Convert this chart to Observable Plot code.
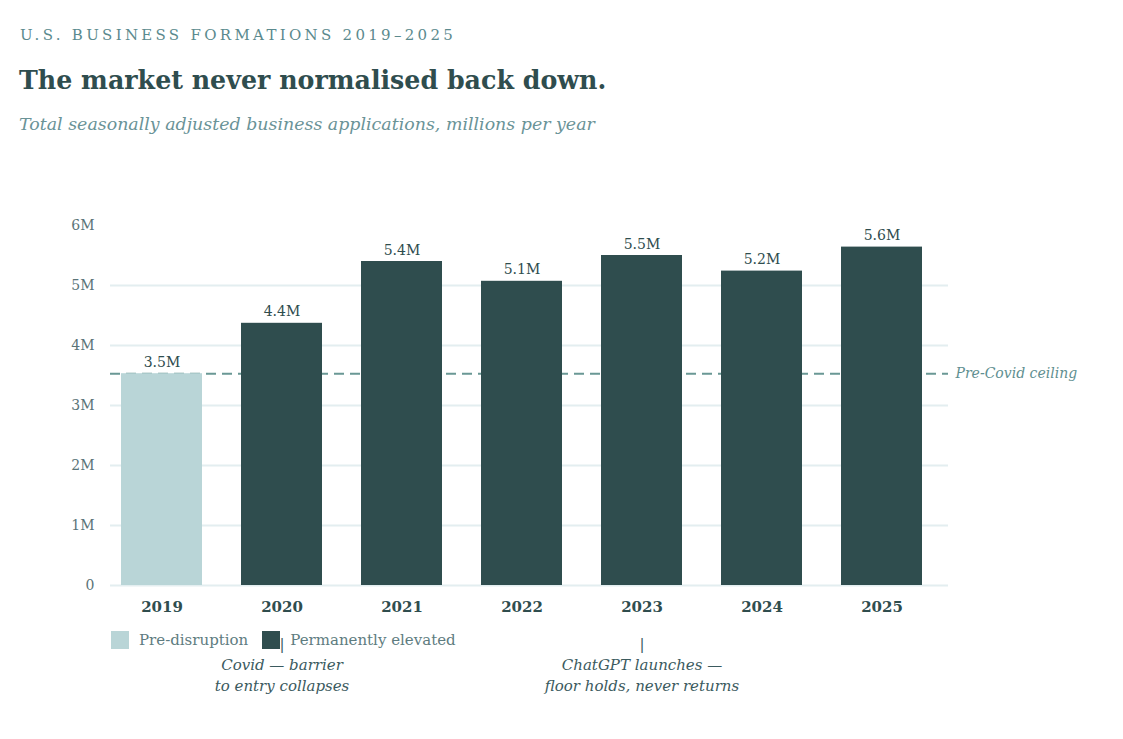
<!DOCTYPE html>
<html>
<head>
<meta charset="utf-8">
<script src="https://cdn.jsdelivr.net/npm/d3@7"></script>
<script src="https://cdn.jsdelivr.net/npm/@observablehq/plot@0.6"></script>
<style>
  body { margin: 0; background: #ffffff; }
  #page { position: relative; width: 1123px; height: 739px; font-family: Georgia, "DejaVu Serif", serif; }
  .kicker { position: absolute; left: 20px; top: 26px; font-size: 15px; letter-spacing: 3.3px; color: #5b8a8e; white-space: nowrap; }
  .title { position: absolute; left: 19px; top: 65px; font-size: 25.3px; font-weight: bold; color: #2f4d4e; white-space: nowrap; }
  .subtitle { position: absolute; left: 19px; top: 114px; font-size: 17.4px; font-style: italic; color: #6a9397; white-space: nowrap; }
  #chart { position: absolute; left: 0; top: 200px; }
  .legend { position: absolute; left: 111px; top: 631px; display: flex; align-items: center; font-size: 15px; color: #5e7c80; }
  .legend .sw { width: 18px; height: 18px; display: inline-block; margin-right: 10px; }
  .legend .item { display: flex; align-items: center; margin-right: 14px; }
</style>
</head>
<body>
<div id="page">
  <div class="kicker">U.S. BUSINESS FORMATIONS 2019–2025</div>
  <div class="title">The market never normalised back down.</div>
  <div class="subtitle">Total seasonally adjusted business applications, millions per year</div>
  <div id="chart"></div>
  <div class="legend" id="legend"></div>
</div>
<script>
// Business applications per year, millions
const years = ["2019", "2020", "2021", "2022", "2023", "2024", "2025"];
const applications = [3.53, 4.37, 5.40, 5.07, 5.50, 5.24, 5.64];
const phases = ["Pre-disruption", "Permanently elevated", "Permanently elevated", "Permanently elevated", "Permanently elevated", "Permanently elevated", "Permanently elevated"];
const yTicks = [0, 1, 2, 3, 4, 5, 6];
const gridTicks = [0, 1, 2, 3, 4, 5];
const preCovidCeiling = 3.53;
const ceilingLabel = "Pre-Covid ceiling";
const eventYears = ["2020", "2023"];
const eventNotes = ["|\nCovid — barrier\nto entry collapses", "|\nChatGPT launches —\nfloor holds, never returns"];

const phaseNames = ["Pre-disruption", "Permanently elevated"];
const phaseColors = ["#b9d5d7", "#2f4d4e"];

const rows = years.map((year, i) => ({year, value: applications[i], phase: phases[i]}));
const events = eventYears.map((year, i) => ({year, note: eventNotes[i]}));

const font = 'Georgia, "DejaVu Serif", serif';

const chart = Plot.plot({
  width: 1123,
  height: 500,
  marginLeft: 110,
  marginRight: 175,
  marginTop: 25,
  marginBottom: 115,
  style: {fontFamily: font, background: "transparent", overflow: "visible"},
  x: {domain: years, paddingInner: 0.325, paddingOuter: 0.154, align: 0.297, label: null},
  y: {domain: [0, 6], label: null},
  color: {domain: phaseNames, range: phaseColors},
  marks: [
    Plot.gridY(gridTicks, {stroke: "#e3eef0", strokeOpacity: 1, strokeWidth: 2}),
    Plot.axisY(yTicks, {
      tickSize: 0, tickPadding: 16, fontSize: 14, fill: "#5b7478",
      tickFormat: d => d === 0 ? "0" : `${d}M`, label: null
    }),
    Plot.axisX({tickSize: 0, tickPadding: 16, fontSize: 15, fontWeight: "bold", fill: "#2f4d4e", label: null}),
    Plot.ruleY([preCovidCeiling], {stroke: "#6a9895", strokeWidth: 2, strokeDasharray: "10,6"}),
    Plot.barY(rows, {x: "year", y: "value", fill: "phase"}),
    Plot.text(rows, {
      x: "year", y: "value", text: d => `${d.value.toFixed(1)}M`,
      dy: -7, lineAnchor: "bottom", fontSize: 14, fill: "#2f4d4e"
    }),
    Plot.text([preCovidCeiling], {
      y: d => d, frameAnchor: "right", dx: 7, textAnchor: "start",
      text: () => ceilingLabel, fontStyle: "italic", fontSize: 14, fill: "#5f8f91"
    }),
    Plot.text(events, {
      x: "year", frameAnchor: "bottom", dy: 49, lineAnchor: "top", lineHeight: 1.4,
      text: "note", fontStyle: "italic", fontSize: 15, fill: "#3b5a5e"
    })
  ]
});
document.getElementById("chart").append(chart);

// Phase legend
const legend = document.getElementById("legend");
phaseNames.forEach((name, i) => {
  const item = document.createElement("span");
  item.className = "item";
  const sw = document.createElement("span");
  sw.className = "sw";
  sw.style.background = phaseColors[i];
  item.append(sw, document.createTextNode(name));
  legend.append(item);
});
</script>
</body>
</html>
